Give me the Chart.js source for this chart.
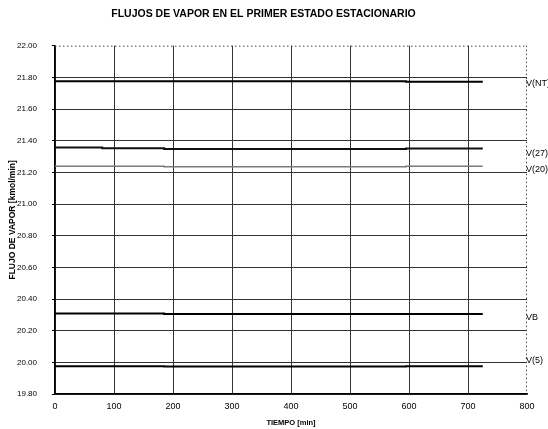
<!DOCTYPE html>
<html>
<head>
<meta charset="utf-8">
<script src="https://cdn.jsdelivr.net/npm/chart.js@4/dist/chart.umd.min.js"></script>
<style>
  html, body { margin: 0; padding: 0; background: #fff; }
  #wrap { width: 548px; height: 429px; }
</style>
</head>
<body>
<div id="wrap"><canvas id="chartVapor"></canvas></div>
<script>
"use strict";

// Tiempo [min] en que cambia cada flujo (escalones pequeños)
var tiempo = [0, 80, 185, 595, 725];

// Flujos de vapor [kmol/min]
var vNT = [21.776, 21.776, 21.775, 21.772, 21.772];
var v27 = [21.357, 21.352, 21.348, 21.350, 21.350];
var v20 = [21.238, 21.238, 21.236, 21.238, 21.238];
var vB  = [20.308, 20.308, 20.305, 20.306, 20.306];
var v5  = [19.976, 19.976, 19.973, 19.975, 19.975];

// Rótulos a la derecha del gráfico y su altura en el eje Y
var nombres   = ['V(NT)', 'V(27)', 'V(20)', 'VB', 'V(5)'];
var alturaRot = [21.76, 21.32, 21.22, 20.28, 20.01];

var FUENTE = "'Liberation Sans', Arial, sans-serif";

function puntos(valores) {
  return tiempo.map(function (t, i) { return { x: t, y: valores[i] }; });
}

function serie(nombre, valores, color, ancho) {
  return {
    label: nombre,
    data: puntos(valores),
    borderColor: color,
    borderWidth: ancho,
    pointRadius: 0,
    stepped: true,
    fill: false
  };
}

// Marco punteado arriba (22.00) y a la derecha (800)
var bordePunteado = {
  id: 'bordePunteado',
  beforeDatasetsDraw: function (chart) {
    var a = chart.chartArea, ctx = chart.ctx;
    ctx.save();
    ctx.strokeStyle = '#444';
    ctx.lineWidth = 1;
    ctx.setLineDash([1.5, 2.5]);
    ctx.beginPath();
    ctx.moveTo(a.left, a.top + 0.5);
    ctx.lineTo(a.right, a.top + 0.5);
    ctx.moveTo(a.right - 0.5, a.top);
    ctx.lineTo(a.right - 0.5, a.bottom);
    ctx.stroke();
    ctx.restore();
  }
};

// Nombres de cada flujo al final de las líneas
var rotulosSeries = {
  id: 'rotulosSeries',
  afterDraw: function (chart) {
    var ctx = chart.ctx, sy = chart.scales.y, a = chart.chartArea;
    ctx.save();
    ctx.fillStyle = '#000';
    ctx.font = '9px ' + FUENTE;
    ctx.textAlign = 'left';
    ctx.textBaseline = 'middle';
    nombres.forEach(function (n, i) {
      ctx.fillText(n, a.right - 1, sy.getPixelForValue(alturaRot[i]));
    });
    ctx.restore();
  }
};

new Chart(document.getElementById('chartVapor'), {
  type: 'line',
  data: {
    datasets: [
      serie('V(NT)', vNT, '#000', 2),
      serie('V(27)', v27, '#111', 2),
      serie('V(20)', v20, '#7a7a7a', 1.5),
      serie('VB', vB, '#000', 2),
      serie('V(5)', v5, '#000', 2)
    ]
  },
  options: {
    responsive: true,
    maintainAspectRatio: false,
    animation: false,
    layout: { padding: { left: 0, right: 21, top: 0, bottom: 0 } },
    plugins: {
      legend: { display: false },
      tooltip: { enabled: false },
      title: {
        display: true,
        text: 'FLUJOS DE VAPOR EN EL PRIMER ESTADO ESTACIONARIO',
        color: '#000',
        font: { family: FUENTE, size: 10.5, weight: 'bold', lineHeight: 1.2 },
        padding: { top: 7.5, bottom: 25.6 }
      }
    },
    scales: {
      x: {
        type: 'linear',
        min: 0,
        max: 800,
        ticks: {
          stepSize: 100,
          color: '#000',
          padding: 7.5,
          maxRotation: 0,
          font: { family: FUENTE, size: 9 }
        },
        grid: {
          drawTicks: false,
          lineWidth: 1,
          color: function (c) { return c.tick && c.tick.value === 800 ? 'rgba(0,0,0,0)' : '#333'; }
        },
        border: { display: true, color: '#000', width: 1.5 },
        title: {
          display: true,
          text: 'TIEMPO [min]',
          color: '#000',
          font: { family: FUENTE, size: 7.5, weight: 'bold', lineHeight: 1.2 },
          padding: { top: 0, bottom: 1.5 }
        },
        afterFit: function (s) { s.height = 35; }
      },
      y: {
        min: 19.8,
        max: 22.0,
        ticks: {
          stepSize: 0.2,
          color: '#000',
          padding: 15,
          font: { family: FUENTE, size: 8 },
          callback: function (v) { return Number(v).toFixed(2); }
        },
        grid: {
          drawTicks: true,
          tickLength: 3,
          tickColor: '#000',
          lineWidth: 1,
          color: function (c) {
            if (!c.tick) return '#333';
            return Math.abs(c.tick.value - 22) < 1e-6 ? 'rgba(0,0,0,0)' : '#333';
          }
        },
        border: { display: true, color: '#000', width: 1.5 },
        title: {
          display: true,
          text: 'FLUJO DE VAPOR [kmol/min]',
          color: '#000',
          font: { family: FUENTE, size: 8.5, weight: 'bold', lineHeight: 1.2 },
          padding: { top: 7.5, bottom: 0 }
        },
        afterFit: function (s) { s.width = 55; }
      }
    }
  },
  plugins: [bordePunteado, rotulosSeries]
});
</script>
</body>
</html>
